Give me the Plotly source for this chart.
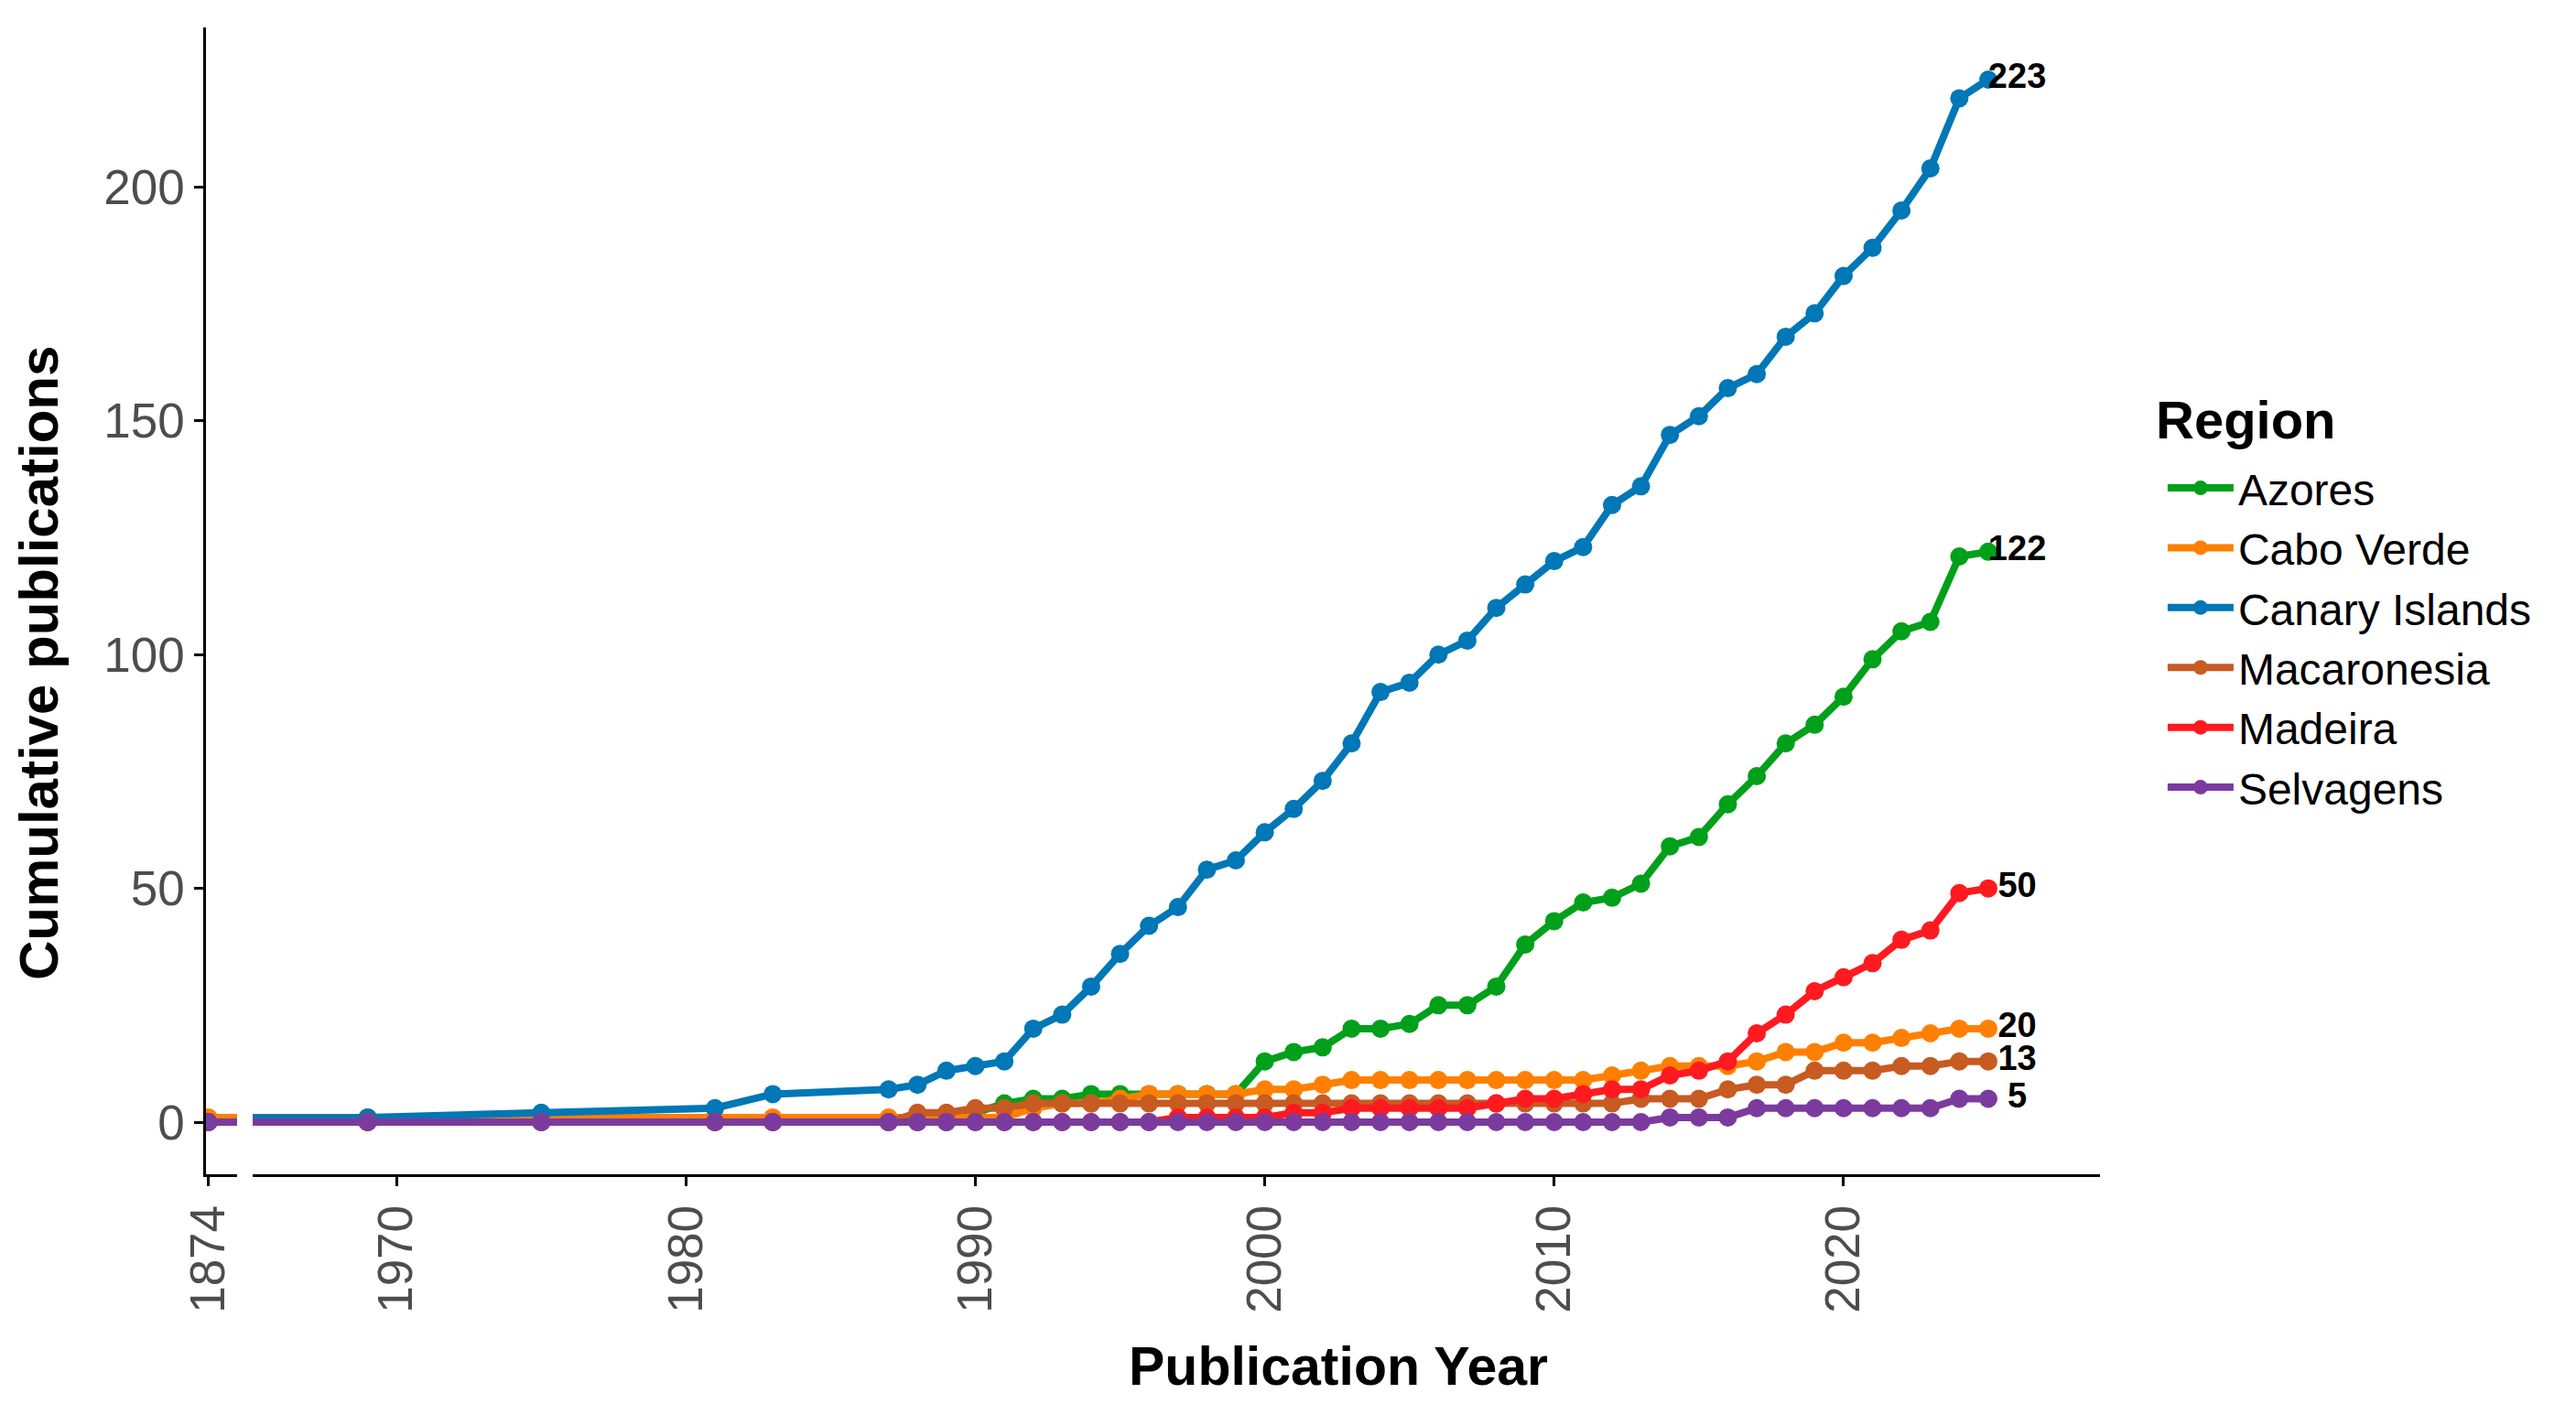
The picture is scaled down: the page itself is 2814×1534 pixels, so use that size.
import plotly.graph_objects as go

years = [1874, 1969, 1975, 1981, 1983] + list(range(1987, 2026))

regions = ["Azores", "Cabo Verde", "Canary Islands", "Macaronesia", "Madeira", "Selvagens"]

azores = [0, 0, 0, 0, 0, 0, 0, 0, 2, 4, 5, 5, 6, 6, 6, 6, 6, 6, 13, 15, 16, 20, 20, 21,
          25, 25, 29, 38, 43, 47, 48, 51, 59, 61, 68, 74, 81, 85, 91, 99, 105, 107, 121, 122]
cabo_verde = [1, 1, 1, 1, 1, 1, 1, 1, 1, 1, 3, 4, 4, 5, 6, 6, 6, 6, 7, 7, 8, 9, 9, 9,
              9, 9, 9, 9, 9, 9, 10, 11, 12, 12, 12, 13, 15, 15, 17, 17, 18, 19, 20, 20]
canary = [0, 1, 2, 3, 6, 7, 8, 11, 12, 13, 20, 23, 29, 36, 42, 46, 54, 56, 62, 67, 73, 81, 92, 94,
          100, 103, 110, 115, 120, 123, 132, 136, 147, 151, 157, 160, 168, 173, 181, 187, 195, 204, 219, 223]
macaronesia = [0, 0, 0, 0, 0, 0, 2, 2, 3, 3, 4, 4, 4, 4, 4, 4, 4, 4, 4, 4, 4, 4, 4, 4,
               4, 4, 4, 4, 4, 4, 4, 5, 5, 5, 7, 8, 8, 11, 11, 11, 12, 12, 13, 13]
madeira = [0, 0, 0, 0, 0, 0, 0, 0, 0, 0, 0, 0, 0, 0, 0, 1, 1, 1, 1, 2, 2, 3, 3, 3,
           3, 3, 4, 5, 5, 6, 7, 7, 10, 11, 13, 19, 23, 28, 31, 34, 39, 41, 49, 50]
selvagens = [0, 0, 0, 0, 0, 0, 0, 0, 0, 0, 0, 0, 0, 0, 0, 0, 0, 0, 0, 0, 0, 0, 0, 0,
             0, 0, 0, 0, 0, 0, 0, 0, 1, 1, 1, 3, 3, 3, 3, 3, 3, 3, 5, 5]

series = [azores, cabo_verde, canary, macaronesia, madeira, selvagens]
colors = ["#00A01A", "#FF8000", "#0077B6", "#C75B22", "#FF1A1F", "#7B3B9E"]

main_ticks = [1970, 1980, 1990, 2000, 2010, 2020]
break_ticks = [1874]

FONT = "Liberation Sans, Arial, sans-serif"
TICK_GREY = "#4D4D4D"

fig = go.Figure()

for name, vals, col in zip(regions, series, colors):
    for xa, show in (("x", False), ("x2", True)):
        fig.add_trace(go.Scatter(
            x=years, y=vals, mode="lines+markers", name=name,
            xaxis=xa, yaxis="y", showlegend=show, legendgroup=name,
            line=dict(color=col, width=8),
            marker=dict(color=col, size=20),
        ))

last_year = years[-1]
finals = [s[-1] for s in series]
fig.add_trace(go.Scatter(
    x=[last_year + 1] * len(finals), y=finals, mode="text",
    text=[str(v) for v in finals], textposition="middle center",
    textfont=dict(family=FONT, size=38, color="black", weight="bold"),
    xaxis="x2", yaxis="y", showlegend=False, cliponaxis=False, hoverinfo="skip",
))

axis_common = dict(
    showline=True, linecolor="black", linewidth=2.5,
    ticks="outside", ticklen=10, tickwidth=2.5, tickcolor="black",
    tickfont=dict(family=FONT, size=53, color=TICK_GREY),
    showgrid=False, zeroline=False,
)

fig.update_layout(
    width=2814, height=1534,
    margin=dict(l=225, r=520, t=30, b=251, pad=0, autoexpand=False),
    plot_bgcolor="white", paper_bgcolor="white",
    font=dict(family=FONT, color="black"),
    xaxis=dict(domain=[0, 0.0164], range=[1873.92, 1875.0],
               tickmode="array", tickvals=break_ticks, ticktext=[str(t) for t in break_ticks],
               tickangle=-90, anchor="y", **axis_common),
    xaxis2=dict(domain=[0.0247, 1], range=[1965.03, 2028.86],
                tickmode="array", tickvals=main_ticks, ticktext=[str(t) for t in main_ticks],
                tickangle=-90, anchor="y", **axis_common),
    yaxis=dict(domain=[0, 1], range=[-11.15, 234.15],
               tickmode="array", tickvals=[0, 50, 100, 150, 200], anchor="x", **axis_common),
    legend=dict(
        font=dict(family=FONT, size=48, color="black"),
        x=1.0333, xanchor="left", y=0.6286, yanchor="top",
        itemwidth=72, bgcolor="rgba(0,0,0,0)", tracegroupgap=0,
    ),
    annotations=[
        dict(text="<b>Region</b>", xref="paper", yref="paper",
             x=1.0286, y=0.658, showarrow=False, xanchor="left", yanchor="middle",
             font=dict(family=FONT, size=58, color="black")),
        dict(text="<b>Cumulative publications</b>", xref="paper", yref="paper",
             x=-0.0885, y=0.446, textangle=-90, showarrow=False,
             xanchor="center", yanchor="middle",
             font=dict(family=FONT, size=60, color="black")),
        dict(text="<b>Publication Year</b>", xref="paper", yref="paper",
             x=0.598, y=-0.1676, showarrow=False, xanchor="center", yanchor="middle",
             font=dict(family=FONT, size=59, color="black")),
    ],
)

fig.write_html(
    "out.html",
    config={"displayModeBar": False},
    post_script="document.body.style.margin='0';document.body.style.overflow='hidden';",
)
